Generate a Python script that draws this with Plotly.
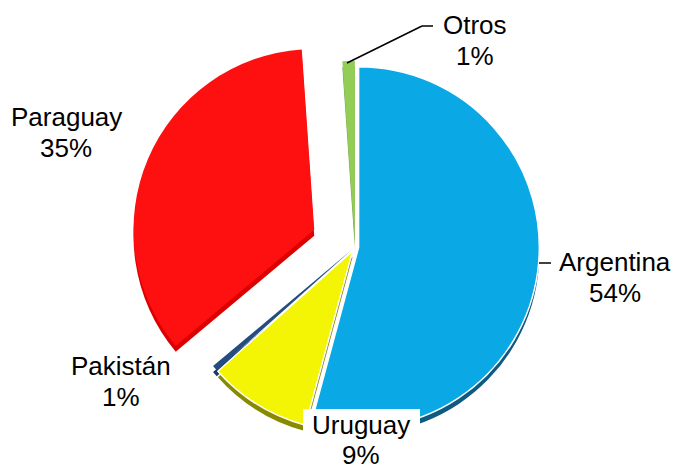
import plotly.graph_objects as go

labels = ["Argentina", "Uruguay", "Pakistán", "Paraguay", "Otros"]
values = [54.2, 9.2, 0.5, 35.0, 1.1]
colors = ["#0BA8E6", "#F3F505", "#254E80", "#FF1010", "#92CD55"]
shadow = ["#0F5A80", "#8A8A00", "#1B3A66", "#DD0000", "#7FA050"]
pull = [0.02, 0.025, 0.025, 0.245, 0.03]
border = [1.5, 1.5, 0, 0, 0]
W, H = 676, 490

def dom(cx, cy, half):
    return dict(x=[(cx-half)/W, (cx+half)/W], y=[1-(cy+half)/H, 1-(cy-half)/H])

fig = go.Figure()
fig.add_trace(go.Pie(labels=labels, values=values, sort=False, direction="clockwise", rotation=0,
    pull=pull, marker=dict(colors=shadow, line=dict(width=0)), textinfo="none", hoverinfo="skip",
    domain=dom(355, 253, 225), showlegend=False))
fig.add_trace(go.Pie(labels=labels, values=values, sort=False, direction="clockwise", rotation=0,
    pull=pull, marker=dict(colors=colors, line=dict(color="white", width=border)), textinfo="none",
    domain=dom(355, 247, 225), showlegend=False))

texts = [("Argentina", 615, 262), ("54%", 615, 293), ("Uruguay", 361, 425), ("9%", 361, 455),
         ("Pakistán", 121, 366), ("1%", 121, 397), ("Paraguay", 66, 117), ("35%", 66, 148),
         ("Otros", 475, 25), ("1%", 475, 56)]
anns = [dict(text=t, x=x/W, y=1-y/H, xref="paper", yref="paper", showarrow=False,
             xanchor="center", yanchor="middle",
             font=dict(family="Liberation Sans", size=26, color="black")) for t, x, y in texts]
lines = [(539, 263, 551, 263), (347, 63, 422, 26), (422, 26, 433, 26)]
shapes = [dict(type="line", xref="paper", yref="paper", x0=a/W, y0=1-b/H, x1=c/W, y1=1-d/H,
               line=dict(color="black", width=1.5)) for a, b, c, d in lines]
shapes.append(dict(type="rect", xref="paper", yref="paper", x0=303/W, x1=420/W, y0=0, y1=1-409/H,
                   line=dict(width=0), fillcolor="white", layer="above"))
fig.update_layout(width=W, height=H, margin=dict(l=0, r=0, t=0, b=0), paper_bgcolor="white",
                  annotations=anns, shapes=shapes, showlegend=False)
fig.write_html("out.html", config=dict(displayModeBar=False),
               post_script="document.body.style.margin='0';document.documentElement.style.overflow='hidden';")
